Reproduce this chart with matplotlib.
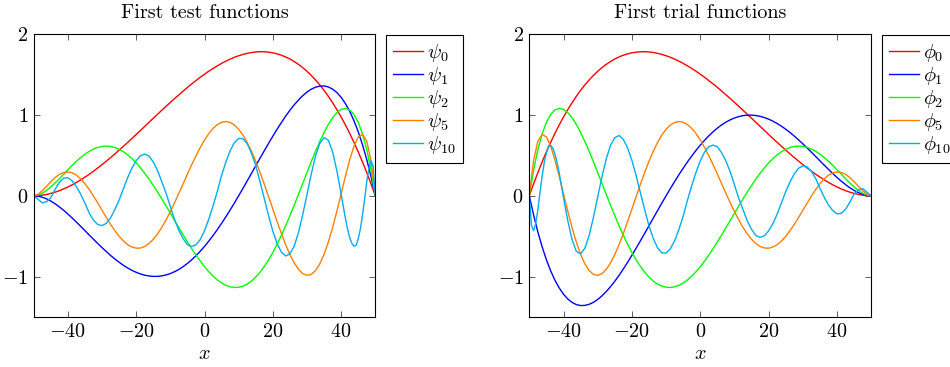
import numpy as np
import matplotlib
matplotlib.use("Agg")
import matplotlib.pyplot as plt
from matplotlib.ticker import FixedLocator, FuncFormatter

plt.rcParams.update({
    "font.family": "serif",
    "font.serif": ["cmr10", "DejaVu Serif"],
    "mathtext.fontset": "cm",
    "axes.formatter.use_mathtext": True,
})

# ---------------- data ----------------
x_fine = np.linspace(-50, 50, 81)                      # sample positions, step 1.25
x_psi10 = np.concatenate([np.linspace(-50, 40, 73), np.linspace(40.625, 50, 16)])
x_phi10 = np.concatenate([np.linspace(-50, -40.625, 16), np.linspace(-40, 50, 73)])

psi_0 = [0, .002, .007, .016, .029, .044, .062, .084, .108, .135, .164, .196, .230, .265,
         .303, .343, .384, .427, .471, .516, .563, .610, .658, .707, .756, .806, .856, .906,
         .956, 1.005, 1.055, 1.104, 1.152, 1.200, 1.246, 1.292, 1.337, 1.380, 1.421, 1.462,
         1.500, 1.537, 1.571, 1.603, 1.634, 1.661, 1.686, 1.709, 1.728, 1.744, 1.758, 1.768,
         1.775, 1.778, 1.777, 1.772, 1.764, 1.751, 1.735, 1.713, 1.688, 1.657, 1.622, 1.581,
         1.536, 1.485, 1.429, 1.368, 1.301, 1.227, 1.148, 1.063, .972, .874, .770, .659, .542,
         .417, .285, .146, 0]
psi_1 = [0, -.005, -.018, -.038, -.065, -.098, -.137, -.179, -.225, -.274, -.325, -.377,
         -.430, -.484, -.537, -.589, -.640, -.689, -.736, -.780, -.820, -.858, -.891, -.920,
         -.945, -.965, -.980, -.990, -.995, -.995, -.989, -.977, -.960, -.937, -.909, -.875,
         -.835, -.790, -.740, -.685, -.625, -.560, -.491, -.418, -.340, -.260, -.176, -.089,
         0, .091, .183, .276, .370, .463, .555, .646, .735, .821, .903, .982, 1.055, 1.122,
         1.182, 1.235, 1.280, 1.315, 1.340, 1.353, 1.355, 1.343, 1.316, 1.274, 1.215, 1.138,
         1.043, .927, .790, .630, .446, .236, 0]
psi_2 = [0, .008, .031, .065, .108, .157, .210, .265, .320, .374, .425, .471, .513, .548,
         .576, .597, .609, .613, .609, .596, .574, .544, .506, .459, .406, .345, .278, .206,
         .128, .047, -.038, -.126, -.215, -.305, -.394, -.483, -.569, -.652, -.732, -.806,
         -.875, -.937, -.992, -1.039, -1.077, -1.105, -1.124, -1.132, -1.129, -1.115, -1.090,
         -1.053, -1.004, -.944, -.873, -.792, -.700, -.598, -.488, -.370, -.246, -.117, .017,
         .152, .287, .420, .548, .670, .781, .880, .963, 1.026, 1.066, 1.078, 1.059, 1.003,
         .907, .763, .569, .316, 0]
psi_5 = [0, .018, .061, .116, .173, .224, .263, .287, .294, .283, .254, .209, .149, .078,
         -.003, -.089, -.178, -.267, -.352, -.430, -.500, -.558, -.603, -.633, -.647, -.645,
         -.626, -.590, -.538, -.471, -.391, -.298, -.196, -.086, .030, .148, .267, .382, .493,
         .596, .688, .767, .831, .878, .907, .916, .905, .873, .821, .749, .658, .549, .426,
         .289, .143, -.009, -.164, -.318, -.465, -.603, -.725, -.828, -.908, -.961, -.982,
         -.971, -.923, -.841, -.723, -.572, -.393, -.191, .024, .240, .442, .611, .726, .757,
         .673, .435, 0]
psi_10 = [0, -.042, -.088, -.072, -.024, .078, .165, .216, .223, .184,
          .113, .020, -.092, -.212, -.301, -.355, -.368, -.341, -.272, -.172,
          -.054, .086, .223, .342, .432, .494, .514, .490, .417, .311,
          .173, .032, -.133, -.295, -.428, -.531, -.603, -.625, -.606, -.540,
          -.431, -.290, -.125, .054, .251, .415, .555, .655, .707, .704,
          .643, .526, .372, .174, -.034, -.245, -.437, -.589, -.695, -.743,
          -.717, -.624, -.455, -.236, .014, .268, .490, .647, .717, .686,
          .541, .308, .022, -.131, -.279, -.410, -.514, -.587, -.622, -.613,
          -.531, -.412, -.239, -.041, .175, .340, .432, .366, 0]

phi_0 = [0, .146, .285, .417, .542, .659, .770, .874, .972, 1.063, 1.148, 1.227, 1.301,
         1.368, 1.429, 1.485, 1.536, 1.581, 1.622, 1.657, 1.688, 1.713, 1.735, 1.751, 1.764,
         1.772, 1.777, 1.778, 1.775, 1.768, 1.758, 1.744, 1.728, 1.709, 1.686, 1.661, 1.634,
         1.603, 1.571, 1.537, 1.500, 1.462, 1.421, 1.380, 1.337, 1.292, 1.246, 1.200, 1.152,
         1.104, 1.055, 1.005, .956, .906, .856, .806, .756, .707, .658, .610, .563, .516,
         .471, .427, .384, .343, .303, .265, .230, .196, .164, .135, .108, .084, .062, .044,
         .029, .016, .007, .002, 0]
phi_1 = [0, -.236, -.446, -.630, -.790, -.927, -1.043, -1.138, -1.215, -1.274, -1.316,
         -1.343, -1.355, -1.353, -1.340, -1.315, -1.280, -1.235, -1.182, -1.122, -1.055,
         -.982, -.903, -.821, -.735, -.646, -.555, -.463, -.370, -.276, -.183, -.091, 0, .089,
         .176, .260, .340, .418, .491, .560, .625, .685, .740, .790, .835, .875, .909, .937,
         .960, .977, .989, .995, .995, .990, .980, .965, .945, .920, .891, .858, .820, .780,
         .736, .689, .640, .589, .537, .484, .430, .377, .325, .274, .225, .179, .137, .098,
         .065, .038, .018, .005, 0]
phi_2 = [0, .316, .569, .763, .907, 1.003, 1.059, 1.078, 1.066, 1.026, .963, .880, .781,
         .670, .548, .420, .287, .152, .017, -.117, -.246, -.370, -.488, -.598, -.700, -.792,
         -.873, -.944, -1.004, -1.053, -1.090, -1.115, -1.129, -1.132, -1.124, -1.105, -1.077,
         -1.039, -.992, -.937, -.875, -.806, -.732, -.652, -.569, -.483, -.394, -.305, -.215,
         -.126, -.038, .047, .128, .206, .278, .345, .406, .459, .506, .544, .574, .596, .609,
         .613, .609, .597, .576, .548, .513, .471, .425, .374, .320, .265, .210, .157, .108,
         .065, .031, .008, 0]
phi_5 = [0, .435, .673, .757, .726, .611, .442, .240, .024, -.191, -.393, -.572, -.723,
         -.841, -.923, -.971, -.982, -.961, -.908, -.828, -.725, -.603, -.465, -.318, -.164,
         -.009, .143, .289, .426, .549, .658, .749, .821, .873, .905, .916, .907, .878, .831,
         .767, .688, .596, .493, .382, .267, .148, .030, -.086, -.196, -.298, -.391, -.471,
         -.538, -.590, -.626, -.645, -.647, -.633, -.603, -.558, -.500, -.430, -.352, -.267,
         -.178, -.089, -.003, .078, .149, .209, .254, .283, .294, .287, .263, .224, .173, .116,
         .061, .018, 0]
phi_10 = [0, -.366, -.432, -.340, -.175, .041, .239, .412, .531, .613,
          .622, .587, .514, .410, .279, .131, -.022, -.308, -.541, -.686,
          -.717, -.647, -.490, -.268, -.014, .236, .455, .624, .717, .743,
          .695, .589, .437, .245, .034, -.174, -.372, -.526, -.643, -.704,
          -.707, -.655, -.555, -.415, -.251, -.054, .125, .290, .431, .540,
          .606, .625, .603, .531, .428, .295, .133, -.032, -.173, -.311,
          -.417, -.490, -.514, -.494, -.432, -.342, -.223, -.086, .054, .172,
          .272, .341, .368, .355, .301, .212, .092, -.020, -.113, -.184,
          -.223, -.216, -.165, -.078, .024, .072, .088, .042, 0]

test_labels = [r"$\psi_{0}$", r"$\psi_{1}$", r"$\psi_{2}$", r"$\psi_{5}$", r"$\psi_{10}$"]
trial_labels = [r"$\phi_{0}$", r"$\phi_{1}$", r"$\phi_{2}$", r"$\phi_{5}$", r"$\phi_{10}$"]
colors = ["#ff0000", "#0000ff", "#00ff00", "#ff8000", "#00aeef"]
x_ticks = [-40, -20, 0, 20, 40]
y_ticks = [-1, 0, 1, 2]

# ---------------- figure ----------------
W, H = 950, 367
fig = plt.figure(figsize=(W / 100, H / 100), dpi=100)
FS = 14.5
bottom = 1 - 317.3 / H
height = 283.6 / H
ax1 = fig.add_axes([33.7 / W, bottom, 341.6 / W, height])
ax2 = fig.add_axes([529.3 / W, bottom, 342.0 / W, height])

panels = [
    (ax1, "First test functions",
     [(x_fine, psi_0), (x_fine, psi_1), (x_fine, psi_2), (x_fine, psi_5), (x_psi10, psi_10)],
     test_labels),
    (ax2, "First trial functions",
     [(x_fine, phi_0), (x_fine, phi_1), (x_fine, phi_2), (x_fine, phi_5), (x_phi10, phi_10)],
     trial_labels),
]

for ax, title, series, labels in panels:
    for (xs, ys), c, lab in zip(series, colors, labels):
        ax.plot(xs, ys, color=c, lw=1.0, label=lab)
    ax.set_xlim(-50, 50)
    ax.set_ylim(-1.5, 2)
    ax.xaxis.set_major_locator(FixedLocator(x_ticks))
    ax.yaxis.set_major_locator(FixedLocator(y_ticks))
    fmt = FuncFormatter(lambda v, p: r"$%d$" % int(round(v)))
    ax.xaxis.set_major_formatter(fmt)
    ax.yaxis.set_major_formatter(fmt)
    ax.tick_params(direction="in", top=True, right=True, length=4, width=0.6,
                   color="#444444", labelsize=FS, pad=4)
    for s in ax.spines.values():
        s.set_linewidth(0.8)
        s.set_color("black")
    ax.set_title(title, fontsize=FS, pad=11.5)
    ax.set_xlabel(r"$x$", fontsize=FS, labelpad=3)
    leg = ax.legend(loc="upper left", bbox_to_anchor=(1.031, 0.9965), borderaxespad=0,
                    fontsize=FS, frameon=True, fancybox=False, framealpha=1,
                    edgecolor="black", handlelength=1.5, handletextpad=0.2,
                    borderpad=0.35, labelspacing=0.05)
    leg.get_frame().set_linewidth(0.8)

fig.savefig("out.png", dpi=100)
